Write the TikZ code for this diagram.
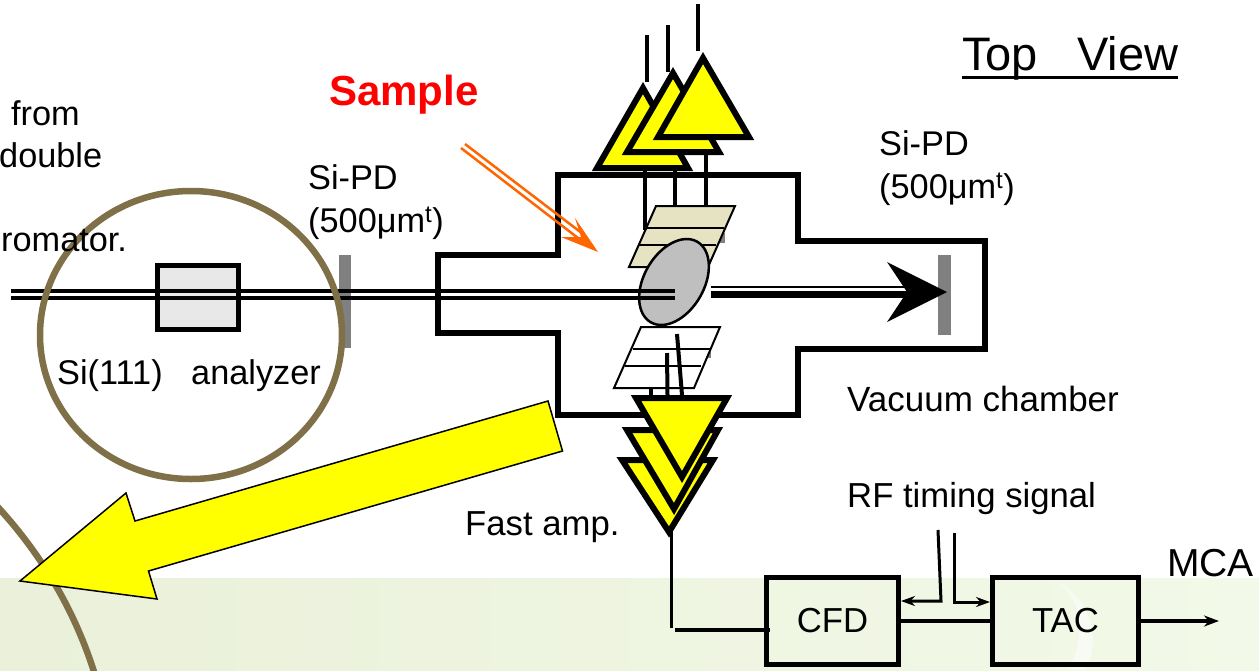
\documentclass[tikz,border=0pt]{standalone}
\usepackage{fontspec}
\setmainfont{Liberation Sans}
\usetikzlibrary{arrows.meta,shapes.geometric}
\definecolor{ringcol}{HTML}{7F7048}
\definecolor{platecol}{HTML}{E6E3C3}
\definecolor{bandl}{HTML}{EAF0D9}
\definecolor{bandr}{HTML}{F2F9E8}
\definecolor{ampcol}{RGB}{255,255,0}
\definecolor{samplecol}{RGB}{255,102,0}
\definecolor{textred}{RGB}{255,0,0}
\tikzset{
  lbl/.style={font=\fontsize{34.7}{40}\selectfont, inner sep=0pt, anchor=base west},
  lblleft/.style={font=\fontsize{34.3}{40}\selectfont, inner sep=0pt, anchor=base west},
  ampl/.style={draw=black, fill=ampcol, line width=6pt, miter limit=10},
  wire/.style={draw=black, line width=4pt},
  chamber/.style={draw=black, line width=6pt},
  ring/.style={draw=ringcol, line width=6.5pt},
  blockbox/.style={draw=black, line width=5pt, font=\fontsize{34.7}{40}\selectfont, inner sep=0pt, minimum height=87pt},
  platebox/.style={draw=black, line width=2pt},
  detbar/.style={fill=black!50}
}
\begin{document}
\begin{tikzpicture}[x=1pt,y=-1pt]
            \useasboundingbox (0,0) rectangle (1259,670);
            % background band
            \shade[left color=bandl, right color=bandr] (0,578) rectangle (1259,670);
            \fill[white, opacity=0.55] (1055,580) .. controls (1085,600) and (1085,640) .. (1068,670) -- (1085,670) .. controls (1102,640) and (1092,600) .. (1055,580) -- cycle;
            % chamber
            \draw[chamber, line join=miter] (438,255) -- (558,255) -- (558,175) -- (798,175) -- (798,241) -- (985,241) -- (985,349) -- (798,349) -- (798,415) -- (558,415) -- (558,333) -- (438,333) -- cycle;
            % detector bars
            \fill[detbar] (339,255) rectangle (351,348);
            \fill[detbar] (938,255) rectangle (951,335);
            % analyzer
            \node[draw=black, line width=5pt, fill=black!9, minimum width=81pt, minimum height=64pt, inner sep=0pt] (analyzer) at (198,297.5) {};
            % plates
            \fill[black!50] (720,233) rectangle (725,243);
            \draw[platebox, fill=platecol] (656,206) -- (735,206) -- (708,267) -- (629,267) -- cycle;
            \draw[line width=1.5pt] (646,228) -- (724,228);
            \draw[line width=1.5pt] (638,245) -- (716,245);
            \fill[black!50] (708,352) rectangle (711,358);
            \draw[platebox, fill=white] (641,327) -- (720,327) -- (694,388) -- (614,388) -- cycle;
            \draw[line width=1.5pt] (633,349) -- (710,349);
            \draw[line width=1.5pt] (625,366) -- (701,366);
            % sample
            \node[draw=black, line width=2.5pt, fill=black!25, ellipse, inner sep=0pt, minimum width=60pt, minimum height=93pt, rotate=-30] (sampledisk) at (674,282) {};
            % beam
            \draw[line width=3.5pt] (11,291) -- (675,291);
            \draw[line width=3.5pt] (11,298) -- (675,298);
            \draw[line width=2pt] (711,287) -- (908,287);
            \draw[line width=7pt] (711,294) -- (910,294);
            \fill[black] (947,292) -- (887,262) -- (907,292) -- (887,322) -- cycle;
            % upper amps
            \draw[wire] (645,171) -- (645,230);
            \draw[wire] (675,171) -- (675,206);
            \draw[wire] (706,155) -- (706,206);
            \draw[ampl] (643,88) -- (597,168) -- (688,168) -- cycle;
            \draw[ampl] (673,73) -- (627,152) -- (719,152) -- cycle;
            \draw[ampl] (703,58) -- (658,137) -- (749,137) -- cycle;
            \draw[wire] (646.5,35) -- (646.5,82);
            \draw[wire] (668,25) -- (668,72);
            \draw[wire] (698,4) -- (698,51);
            % lower amps
            \draw[wire] (651,388) -- (651,395);
            \draw[wire] (667,353) -- (667.5,395);
            \draw[wire] (677,334) -- (682,395);
            \coordinate (ampout) at (671.5,530);
            \coordinate (ampdown) at (671.5,628);
            \draw[line width=3pt] (ampout) -- (ampdown);
            \draw[ampl] (622,460) -- (713,460) -- (669,532) -- cycle;
            \draw[ampl] (627,430) -- (718,430) -- (674,509) -- cycle;
            \draw[ampl] (636,398) -- (727,398) -- (682,477) -- cycle;
            % rings
            \draw[ring] (191,335) ellipse (151 and 144);
            \draw[ring] (-5,504) .. controls (40,552) and (75,610) .. (95,675);
            % big arrow
            \draw[draw=black, fill=ampcol, line width=1.5pt] (548,401) -- (135,521) -- (126,493) -- (20,581) -- (157,599) -- (148.5,571) -- (562.5,451) -- cycle;
            % orange arrow
            \draw[draw=samplecol, line width=2.5pt] (465,144) -- (583,234);
            \draw[draw=samplecol, line width=2.5pt] (461,148) -- (578,238);
            \fill[samplecol] (598,252) -- (575,218) -- (581,237) -- (561,237) -- cycle;
            % blocks
            \node[blockbox, minimum width=132pt] (cfd) at (832.5,621) {CFD};
            \node[blockbox, minimum width=146pt] (tac) at (1065.5,621) {TAC};
            \coordinate (feedin) at (674.5,630);
            \coordinate (feedout) at (770,630);
            \coordinate (rfa) at (938,530);
            \coordinate (rfb) at (941,601);
            \coordinate (rfc) at (954.5,533);
            \coordinate (rfd) at (954.5,602);
            \coordinate (mcaout) at (1219,621);
            \draw[wire] (feedin) -- (feedout);
            \draw[wire] (cfd) -- (tac);
            \draw[wire, -{Stealth[length=15pt,width=11pt]}] (tac) -- (mcaout);
            \draw[line width=3pt, -{Stealth[length=14pt,width=10pt]}] (rfa) -- (rfb) -- (cfd.east |- rfb);
            \draw[line width=3pt, -{Stealth[length=14pt,width=10pt]}] (rfc) -- (rfd) -- (tac.west |- rfd);
            % labels
            \node[lblleft] (fromtxt) at (11,125) {from};
            \node[lblleft] (doubletxt) at (-1,167) {double};
            \node[lblleft] (romtxt) at (1,251) {romator.};
            \node[lblleft] (sipdl) at (308,189) {Si-PD};
            \node[lblleft] (thickl) at (308,232) {(500μm\textsuperscript{t})};
            \node[lblleft] (analyzertxt) at (57,384) {Si(111)\ \ \ analyzer};
            \node[lblleft] (sipdr) at (879,155) {Si-PD};
            \node[lblleft] (thickr) at (879,198) {(500μm\textsuperscript{t})};
            \node[lbl, font=\fontsize{35}{40}\selectfont] (vactxt) at (847,411) {Vacuum chamber};
            \node[lbl] (rftxt) at (847,507) {RF timing signal};
            \node[lbl] (amptxt) at (465,535) {Fast amp.};
            \node[lbl, font=\fontsize{39}{44}\selectfont] (mcatxt) at (1167,576) {MCA};
            \node[lbl, font=\bfseries\fontsize{42}{48}\selectfont, text=textred] (sampletxt) at (329,105) {Sample};
            \node[lbl, font=\fontsize{47}{52}\selectfont] (topview) at (962,70.5) {Top\ \ \ View};
            \draw[line width=3pt] ([yshift=-6.5pt]topview.base west) -- ([yshift=-6.5pt]topview.base east);
\end{tikzpicture}
\end{document}
